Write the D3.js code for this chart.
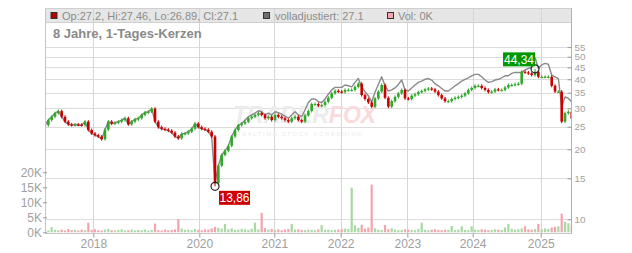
<!DOCTYPE html>
<html><head><meta charset="utf-8">
<script src="https://cdn.jsdelivr.net/npm/d3@7"></script>
<style>body{margin:0;background:#fff}svg{display:block;font-family:"Liberation Sans",Arial,sans-serif}</style>
</head><body><svg id="c" width="632" height="253"></svg>
<script>
// ---- data (one sample per ~2.5 weeks) ----
const closes = [
25.4,26.7,27.6,28.6,29.2,27.6,26.3,25.6,25.4,25.55,
25.5,25.4,26.3,24.2,23.4,23.0,22.7,22.1,24.3,26.3,
25.8,26.0,26.3,26.7,27.2,25.6,26.3,26.9,27.2,28.1,
28.8,29.0,29.9,26.3,24.9,24.5,24.3,24.05,23.6,22.7,
22.3,23.3,23.4,23.8,24.5,25.8,24.9,24.5,24.3,23.8,
22.7,14.3,17.0,18.9,19.7,20.7,22.7,24.2,25.4,25.8,
26.3,27.2,27.6,28.1,28.6,28.1,27.2,27.6,26.7,28.1,
27.6,27.2,26.7,26.3,27.2,27.6,26.7,26.3,28.0,
29.2,31.3,31.3,30.8,31.0,32.0,33.3,34.8,35.7,35.4,
35.2,36.0,36.0,36.0,37.1,38.3,34.2,32.9,31.8,30.5,
33.1,35.4,37.8,33.3,30.5,32.2,33.6,34.8,36.0,33.1,
32.9,34.0,34.5,35.2,35.6,36.2,36.5,36.2,35.4,34.2,
33.1,32.2,32.2,32.9,33.3,33.6,34.0,34.8,36.0,36.7,
37.5,37.5,36.7,36.0,35.2,35.4,36.2,36.0,36.0,36.9,
37.8,37.8,38.1,38.3,43.1,42.8,42.4,41.7,43.1,41.0,
41.0,41.0,41.0,37.5,35.4,35.4,26.3,28.6,29.0,27.1
];
const adjusted = [
25.4,26.7,27.6,28.6,29.2,27.6,26.3,25.6,25.4,25.55,
25.5,25.4,26.3,24.2,23.4,23.0,22.7,22.1,24.3,26.3,
25.8,26.0,26.3,26.7,27.2,25.6,26.3,26.9,27.2,28.1,
28.8,29.0,29.9,26.3,24.9,24.5,24.3,24.05,23.6,22.7,
22.3,23.3,23.4,23.8,24.5,25.8,24.9,24.5,24.3,23.8,
22.7,14.3,17.0,18.9,19.7,20.7,22.7,24.2,25.4,25.8,
26.7,27.6,28.1,28.6,29.3,29.0,28.1,28.6,28.1,29.0,
28.75,28.3,27.8,27.2,28.1,29.0,28.1,27.6,29.5,
31.8,32.9,32.9,32.0,31.8,32.9,34.5,36.0,36.9,36.9,
36.9,37.8,37.5,37.1,38.8,40.3,37.1,35.4,34.0,32.0,
35.2,38.0,41.0,37.5,35.6,36.0,36.7,38.0,39.7,36.0,
35.6,36.7,37.8,38.8,39.3,40.0,40.3,39.7,38.3,37.5,
36.5,35.6,35.6,36.5,37.5,38.3,39.3,40.0,40.6,41.4,
42.0,42.0,41.0,39.7,38.8,39.1,39.7,40.0,40.6,41.4,
41.4,42.4,42.8,42.8,42.8,43.85,44.6,44.9,49.5,44.6,
46.1,46.8,46.4,41.7,41.0,40.3,30.5,33.6,33.1,32.0
];
const volumes = [ // thousands
1.0,0.6,1.7,0.8,0.7,0.9,0.6,1.1,0.7,0.8,
0.6,0.9,0.7,3.2,0.8,1.0,0.7,0.6,0.9,1.2,
0.7,0.6,0.8,1.0,0.6,0.7,0.9,0.6,0.8,0.7,
0.9,0.6,0.8,2.9,0.7,0.6,0.9,0.7,0.8,1.0,
4.4,1.2,0.8,0.9,0.7,1.1,0.8,0.7,1.0,0.9,
1.3,1.8,1.5,1.2,2.8,1.0,1.3,0.8,0.9,1.1,
1.0,0.8,1.2,3.2,1.0,6.5,1.4,0.9,1.1,0.8,
1.0,0.7,0.9,1.1,2.8,0.9,1.0,0.8,0.7,0.9,
0.8,0.7,1.0,2.4,0.8,0.9,0.7,0.8,0.9,1.0,
1.2,1.1,14.9,2.3,1.5,2.5,1.2,1.6,15.9,1.3,
0.9,0.8,2.4,1.0,1.3,0.9,0.7,0.8,1.0,0.9,
0.8,0.7,1.1,3.2,0.8,0.7,0.9,1.0,0.8,0.7,
0.9,0.8,2.1,0.7,0.9,2.0,0.8,0.7,2.0,0.9,
0.8,1.0,0.9,0.7,0.8,1.0,0.9,0.8,1.6,2.8,
1.2,0.9,1.0,1.3,2.0,1.0,0.9,1.1,2.8,1.0,
1.3,1.1,1.6,1.8,2.0,6.2,3.5,3.0,2.5
];
const yearTickIdx = [14.5, 46.3, 68.8, 88.7, 108.7, 128.3, 148.7];
const yearLabels = ["2018","2020","2021","2022","2023","2024","2025"];
const priceTicks = [10,15,20,25,30,35,40,45,50,55];
const volTicks = [0,5,10,15,20];
const lowMark = {i:51, value:13.86, label:"13,86"};
const highMark = {i:147, value:44.34, label:"44,34"};
const legendTexts = ["Op:27.2, Hi:27.46, Lo:26.89, Cl:27.1", "volladjustiert: 27.1", "Vol: 0K"];
const subtitle = "8 Jahre, 1-Tages-Kerzen";

// ---- drawing ----
const svg = d3.select("#c");
const L=45, R=572, T=8, HB=22.5, B=233;
const n = closes.length;
const x = d3.scaleLinear().domain([0, n-1]).range([45, 571.7]);
const y = d3.scaleLog().domain([10,55]).range([219.3, 47.1]);
const yv = d3.scaleLinear().domain([0,20]).range([232.3,172.3]);

// header band
svg.append("rect").attr("x",L).attr("y",T).attr("width",R-L).attr("height",HB-T).attr("fill","#e6e6e6");
// gridlines
svg.append("g").selectAll("line").data(priceTicks).join("line")
  .attr("x1",L).attr("x2",R).attr("y1",d=>Math.round(y(d))+0.5).attr("y2",d=>Math.round(y(d))+0.5)
  .attr("stroke","#dcdcdc");
svg.append("g").selectAll("line").data(yearTickIdx).join("line")
  .attr("x1",d=>Math.round(x(d))+0.5).attr("x2",d=>Math.round(x(d))+0.5).attr("y1",T).attr("y2",B)
  .attr("stroke","#d6d6d6");
svg.append("line").attr("x1",L).attr("x2",R).attr("y1",HB).attr("y2",HB).attr("stroke","#d0d0d0");

// watermark
const wm = svg.append("text").attr("x",233).attr("y",123).attr("font-size",23).attr("font-weight","bold")
  .attr("font-style","italic");
wm.append("tspan").attr("fill","#ececec").text("TRADER");
wm.append("tspan").attr("fill","#fadadd").text("FOX");
svg.append("text").attr("x",236).attr("y",136).attr("font-size",6).attr("fill","#ededed")
  .attr("letter-spacing",1.6).text("REALTIME STOCK SCREENING");

// clip
svg.append("clipPath").attr("id","clip").append("rect").attr("x",L+1).attr("y",HB).attr("width",R-L-1).attr("height",B-HB);
const plot = svg.append("g").attr("clip-path","url(#clip)");

const up = i => i===0 || closes[i] >= closes[i-1];

// volume
plot.append("g").selectAll("rect").data(volumes).join("rect")
  .attr("x",(d,i)=>x(i)-1.1).attr("width",2.2)
  .attr("y",d=>yv(d)).attr("height",d=>yv(0)-yv(d))
  .attr("fill",(d,i)=>up(i)?"#a8d9a2":"#f3a3ad");

// adjusted line
plot.append("path").datum(adjusted)
  .attr("d", d3.line().x((d,i)=>x(i)).y(d=>y(d)))
  .attr("fill","none").attr("stroke","#8a8a8a").attr("stroke-width",1.4).attr("stroke-linejoin","round");

// candles
const marks = [lowMark, highMark];
const WICK = 1.5; // px drawn beyond the body, style only
plot.append("g").selectAll("g").data(closes).join(g=>{
  const gg = g.append("g");
  gg.each(function(c,i){
    const o = i===0 ? c : closes[i-1];
    const col = up(i) ? "#2fa82a" : "#cc0000";
    const sel = d3.select(this);
    const m = marks.find(k=>k.i===i);
    const ys = [y(o), y(c)];
    if (m) ys.push(y(m.value));
    sel.append("line").attr("x1",x(i)).attr("x2",x(i))
      .attr("y1",d3.min(ys)-(m&&m===highMark?0:WICK)).attr("y2",d3.max(ys)+(m&&m===lowMark?0:WICK))
      .attr("stroke",col).attr("stroke-width",1);
    const y0 = Math.min(y(o),y(c)), h = Math.max(1.2, Math.abs(y(o)-y(c)));
    sel.append("rect").attr("x",x(i)-1.3).attr("width",2.6).attr("y",y0).attr("height",h).attr("fill",col);
  });
  return gg;
});

// frame
svg.append("line").attr("x1",L+0.5).attr("x2",L+0.5).attr("y1",T).attr("y2",B).attr("stroke","#c4c4c4");
svg.append("line").attr("x1",L).attr("x2",R).attr("y1",T+0.5).attr("y2",T+0.5).attr("stroke","#cfcfcf");
svg.append("line").attr("x1",R-0.5).attr("x2",R-0.5).attr("y1",T).attr("y2",B).attr("stroke","#b0b0b0");
svg.append("line").attr("x1",L).attr("x2",R).attr("y1",B+0.5).attr("y2",B+0.5).attr("stroke","#c8c8c8");

// axes
function styleAxis(size){
  return g=>{
    g.select(".domain").remove();
    g.selectAll(".tick line").attr("stroke","#9a9a9a");
    g.selectAll(".tick text").attr("fill","#a0a0a0").attr("font-size",size).attr("font-family","Liberation Sans, Arial, sans-serif");
  };
}
svg.append("g").attr("transform",`translate(${R-0.5},0)`)
  .call(d3.axisRight(y).tickValues(priceTicks).tickFormat(d3.format("d")).tickSizeInner(-4).tickSizeOuter(0).tickPadding(3))
  .call(styleAxis(9.8));
svg.append("g").attr("transform",`translate(47,0)`)
  .call(d3.axisLeft(yv).tickValues(volTicks).tickFormat(d=>d+"K").tickSizeInner(4).tickSizeOuter(0).tickPadding(1))
  .call(styleAxis(12));
svg.append("g").attr("transform",`translate(0,${B+0.5})`)
  .call(d3.axisBottom(x).tickValues(yearTickIdx).tickFormat((d,i)=>yearLabels[i]).tickSizeInner(4).tickSizeOuter(0).tickPadding(2))
  .call(styleAxis(12));

// extreme markers
function mark(m, dx, dy, w, fill){
  const cx = x(m.i), cy = y(m.value);
  svg.append("circle").attr("cx",cx).attr("cy",cy).attr("r",4).attr("fill","none").attr("stroke","#222").attr("stroke-width",1.2);
  svg.append("rect").attr("x",cx+dx).attr("y",cy+dy).attr("width",w).attr("height",14).attr("fill",fill);
  svg.append("text").attr("x",cx+dx+w/2).attr("y",cy+dy+11.5).attr("text-anchor","middle")
    .attr("fill","#fff").attr("font-size",12).text(m.label);
}
mark(lowMark, 4, 4.5, 31, "#cc0000");
mark(highMark, -32, -16.5, 32, "#009900");

// legend
const legendPos = [{sx:51, tx:62, fill:"#b40000"},{sx:263.5, tx:275, fill:"#6e6e6e"},{sx:387.5, tx:398, fill:"#f2a7b0"}];
legendTexts.forEach((t,k)=>{
  const p = legendPos[k];
  svg.append("rect").attr("x",p.sx).attr("y",12.5).attr("width",6).attr("height",6)
    .attr("fill",p.fill).attr("stroke","#333").attr("stroke-width",1);
  svg.append("text").attr("x",p.tx).attr("y",19.5).attr("font-size",11).attr("fill","#8c8c8c").text(t);
});
svg.append("text").attr("x",53).attr("y",38).attr("font-size",13).attr("font-weight","bold").attr("fill","#8a8a8a").text(subtitle);
</script></body></html>
